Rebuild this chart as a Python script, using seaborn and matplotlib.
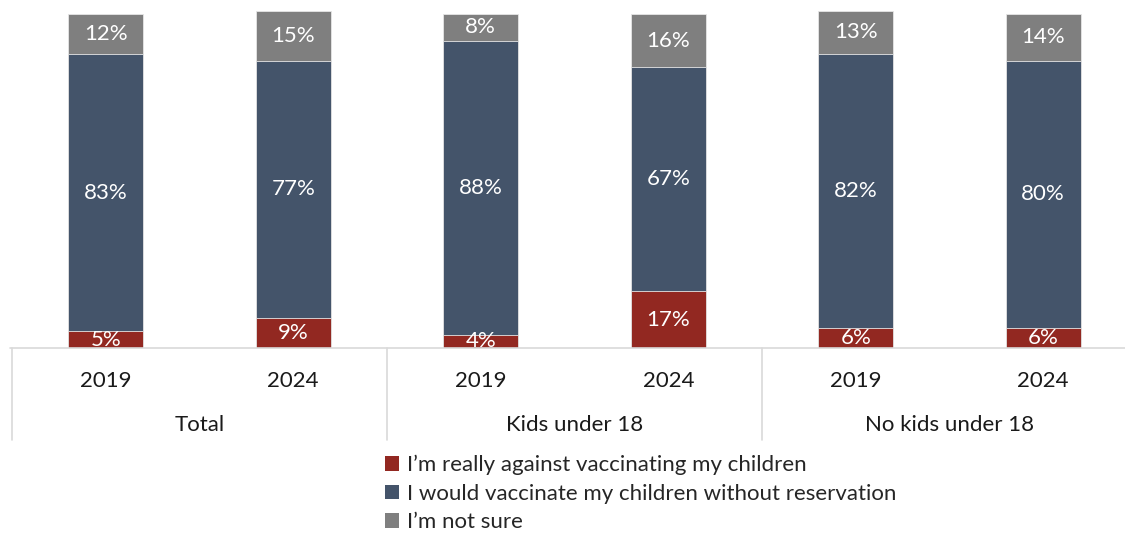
import matplotlib
matplotlib.use("Agg")
import matplotlib.pyplot as plt
import seaborn as sns
import pandas as pd
import numpy as np
from matplotlib.patches import Patch
from matplotlib.lines import Line2D

sns.set_theme(style="white")
plt.rcParams['font.family'] = ['Lato', 'DejaVu Sans']

groups = ["Total", "Kids under 18", "No kids under 18"]
years = ["2019", "2024"]
against = [5, 9, 4, 17, 6, 6]
would = [83, 77, 88, 67, 82, 80]
notsure = [12, 15, 8, 16, 13, 14]
series_names = ["I\u2019m really against vaccinating my children",
                "I would vaccinate my children without reservation",
                "I\u2019m not sure"]
colors = ["#922821", "#44546A", "#7F7F7F"]

cats = [f"{g} {y}" for g in groups for y in years]
df = pd.DataFrame({"cat": cats, "against": against, "would": would, "notsure": notsure})
df["c1"] = df["against"]
df["c2"] = df["against"] + df["would"]
df["c3"] = df["c2"] + df["notsure"]

W, H = 1125, 535
fig = plt.figure(figsize=(W / 100, H / 100), dpi=100)
ax_h = 347.4
ax = fig.add_axes([12 / W, 187 / H, 1125 / W, ax_h / H])

for col, c in [("c3", colors[2]), ("c2", colors[1]), ("c1", colors[0])]:
    sns.barplot(data=df, x="cat", y=col, order=cats, color=c, width=0.4,
                edgecolor="#E6E6E6", linewidth=0.6, saturation=1, ax=ax)

ax.set_xlim(-0.5, 5.5)
ax.set_ylim(0, 104)
ax.set_xlabel("")
ax.set_ylabel("")
ax.set_xticks([])
ax.set_yticks([])
for s in ax.spines.values():
    s.set_visible(False)

fs = 16
# segment labels
for i in range(len(cats)):
    bottoms = [0, df["c1"][i], df["c2"][i]]
    vals = [against[i], would[i], notsure[i]]
    for b, v in zip(bottoms, vals):
        ax.text(i, b + v / 2, f"{v}%", ha="center", va="center", color="white",
                fontsize=fs, clip_on=True)

trans = ax.get_xaxis_transform()
# baseline
ax.add_line(Line2D([-0.51, 5.5], [0, 0], transform=trans, color="#D9D9D9", lw=1.2, clip_on=False))
low = -92 / ax_h
for xs in [-0.5, 1.5, 3.5]:
    ax.add_line(Line2D([xs, xs], [0, low], transform=trans, color="#D9D9D9", lw=1.2, clip_on=False))

for i, c in enumerate(cats):
    ax.text(i, -33 / ax_h, years[i % 2], transform=trans, ha="center", va="center",
            fontsize=fs, color="#1a1a1a", clip_on=False)
for g, name in enumerate(groups):
    ax.text(2 * g + 0.5, -77 / ax_h, name, transform=trans, ha="center", va="center",
            fontsize=fs, color="#1a1a1a", clip_on=False)

handles = [Patch(facecolor=c, edgecolor="none") for c in colors]
fig.legend(handles, series_names, loc="upper left", bbox_to_anchor=(385 / W, 1 - 455 / H),
           frameon=False, fontsize=fs, handlelength=0.65, handleheight=0.65,
           handletextpad=0.35, labelspacing=0.38, borderaxespad=0, borderpad=0)

fig.savefig("out.png", dpi=100)
